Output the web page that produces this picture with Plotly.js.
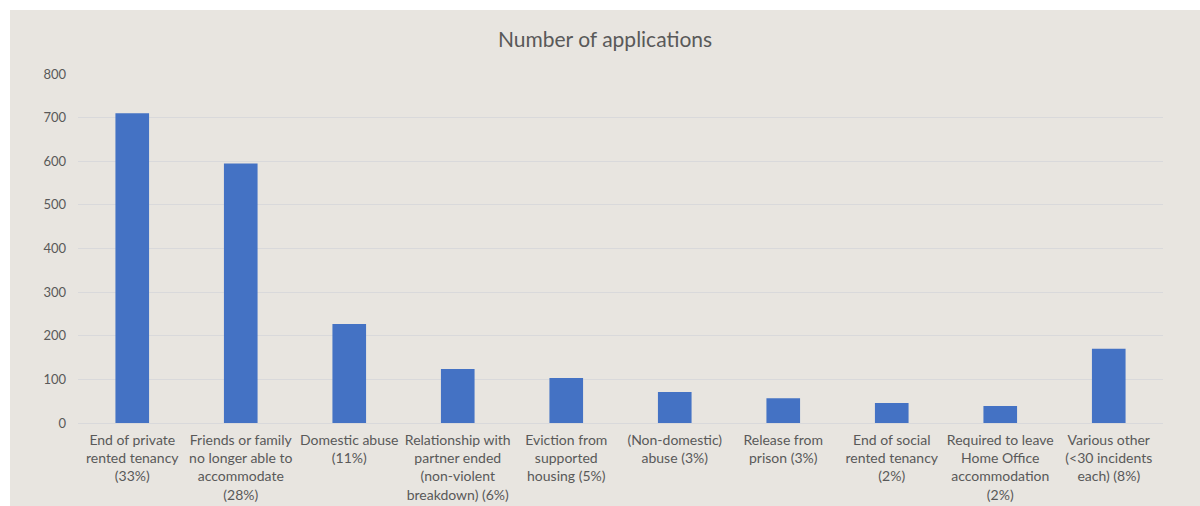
<!DOCTYPE html>
<html><head><meta charset="utf-8">
<script src="https://cdn.plot.ly/plotly-3.0.1.min.js"></script>
<style>
html,body{margin:0;padding:0;background:#ffffff;}
#chart{position:absolute;left:10px;top:10px;width:1190px;height:496px;}
</style></head>
<body><div id="chart"></div>
<script>
var categories = [
  "End of private<br>rented tenancy<br>(33%)",
  "Friends or family<br>no longer able to<br>accommodate<br>(28%)",
  "Domestic abuse<br>(11%)",
  "Relationship with<br>partner ended<br>(non-violent<br>breakdown) (6%)",
  "Eviction from<br>supported<br>housing (5%)",
  "(Non-domestic)<br>abuse (3%)",
  "Release from<br>prison (3%)",
  "End of social<br>rented tenancy<br>(2%)",
  "Required to leave<br>Home Office<br>accommodation<br>(2%)",
  "Various other<br>(<30 incidents<br>each) (8%)"
];
var applications = [710, 595, 227, 124, 103, 71, 57, 46, 39, 170];
var yTicks = [0, 100, 200, 300, 400, 500, 600, 700, 800];

var trace = {
  type: 'bar',
  x: categories,
  y: applications,
  marker: {color: '#4472C4', line: {width: 0}},
  hoverinfo: 'x+y'
};
var layout = {
  width: 1190, height: 496,
  paper_bgcolor: '#E8E5E0',
  plot_bgcolor: '#E8E5E0',
  margin: {l: 68, r: 37, t: 64, b: 83},
  bargap: 0.69,
  showlegend: false,
  title: {text: 'Number of applications', font: {family: 'Lato, "Open Sans", sans-serif', size: 21, color: '#595959'}, x: 0.5, xanchor: 'center', y: 0.94, yanchor: 'middle'},
  font: {family: 'Lato, "Open Sans", sans-serif', color: '#595959'},
  xaxis: {
    type: 'category',
    tickfont: {size: 14, color: '#595959'},
    showgrid: false, showline: false, ticks: '', zeroline: false,
    ticklabelstandoff: 7,
    automargin: false
  },
  yaxis: {
    range: [0, 800],
    tickvals: yTicks,
    ticktext: yTicks.map(String),
    tickfont: {size: 13, color: '#595959'},
    showgrid: true, gridcolor: '#D9D9DB', gridwidth: 1,
    zeroline: true, zerolinecolor: '#D9D9DB', zerolinewidth: 1,
    showline: false, ticks: '', ticklabelstandoff: 11,
    automargin: false
  }
};
Plotly.newPlot('chart', [trace], layout, {displayModeBar: false, staticPlot: true});
</script></body></html>
